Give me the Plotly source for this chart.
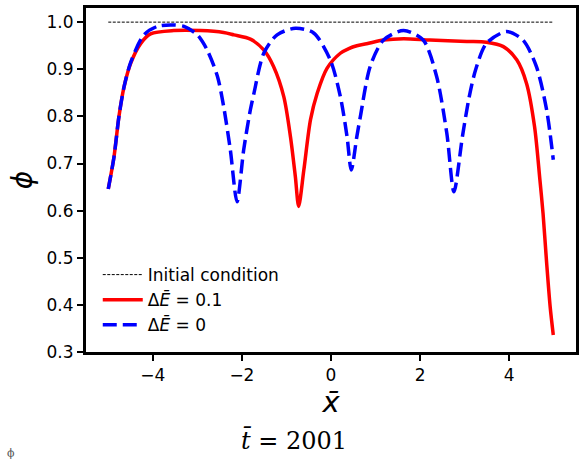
import plotly.graph_objects as go

# ---- data ----
init_x = [-5.0, 5.0]
init_y = [1.0, 1.0]

red_x = [-5.0, -4.87, -4.76, -4.645, -4.495, -4.27, -4.05, -3.53, -2.93, -2.41, -2.18,
         -1.81, -1.51, -1.29, -1.06, -0.91, -0.80, -0.726, -0.61, -0.46, -0.31, -0.09,
         0.21, 0.40, 0.58, 0.80, 1.18, 1.63, 2.22, 3.05, 3.49, 3.87, 4.17, 4.39, 4.57,
         4.69, 4.76, 4.84, 4.92, 4.99]
red_y = [0.646, 0.715, 0.800, 0.863, 0.913, 0.955, 0.975, 0.982, 0.982, 0.978, 0.973,
         0.964, 0.941, 0.906, 0.842, 0.757, 0.672, 0.609, 0.686, 0.793, 0.849, 0.902,
         0.934, 0.944, 0.950, 0.954, 0.962, 0.965, 0.962, 0.959, 0.9575, 0.948, 0.920,
         0.870, 0.778, 0.665, 0.594, 0.490, 0.396, 0.336]

blue_x = [-5.0, -4.87, -4.76, -4.645, -4.495, -4.2, -3.9, -3.6, -3.3, -3.0, -2.78, -2.55,
          -2.41, -2.26, -2.11, -1.96, -1.81, -1.73, -1.51, -1.21, -0.80, -0.39, -0.016,
          0.21, 0.36, 0.455, 0.58, 0.66, 0.88, 1.18, 1.63, 2.07, 2.37, 2.60, 2.76, 2.95,
          3.10, 3.25, 3.49, 3.94, 4.31, 4.61, 4.84, 4.99]
blue_y = [0.646, 0.715, 0.800, 0.863, 0.915, 0.973, 0.991, 0.994, 0.991, 0.973, 0.941, 0.885,
          0.821, 0.729, 0.619, 0.729, 0.814, 0.849, 0.934, 0.973, 0.987, 0.977, 0.920,
          0.842, 0.757, 0.686, 0.757, 0.800, 0.906, 0.962, 0.982, 0.962, 0.885, 0.764, 0.640,
          0.757, 0.840, 0.900, 0.955, 0.980, 0.962, 0.906, 0.814, 0.708]

x_tickvals = [-4, -2, 0, 2, 4]
x_ticktext = ["\u22124", "\u22122", "0", "2", "4"]
y_tickvals = [0.3, 0.4, 0.5, 0.6, 0.7, 0.8, 0.9, 1.0]
y_ticktext = ["0.3", "0.4", "0.5", "0.6", "0.7", "0.8", "0.9", "1.0"]

FONT = "DejaVu Sans"

fig = go.Figure()
fig.add_trace(go.Scatter(x=init_x, y=init_y, mode="lines", name="Initial condition",
                         line=dict(color="black", width=1, dash="3px,1.5px")))
fig.add_trace(go.Scatter(x=red_x, y=red_y, mode="lines", name="\u0394<i>\u0112</i> = 0.1",
                         line=dict(color="#ff0000", width=3.5, shape="spline", smoothing=0.8)))
fig.add_trace(go.Scatter(x=blue_x, y=blue_y, mode="lines", name="\u0394<i>\u0112</i> = 0",
                         line=dict(color="#0000ff", width=3.5, dash="14px,6px",
                                   shape="spline", smoothing=0.8)))

axis_common = dict(showgrid=False, zeroline=False, showline=True, linecolor="black",
                   linewidth=3, mirror=True, ticks="outside", ticklen=6, tickwidth=2,
                   tickcolor="black", automargin=False,
                   tickfont=dict(family=FONT, size=17, color="black"))

fig.update_xaxes(range=[-5.5, 5.5], tickvals=x_tickvals, ticktext=x_ticktext,
                 title=dict(text="<i>x\u0304</i>", font=dict(family=FONT, size=29, color="black"),
                            standoff=0),
                 **axis_common)
fig.update_yaxes(range=[0.3, 1.03], tickvals=y_tickvals, ticktext=y_ticktext,
                 title=dict(text="<i>\u03d5</i>", font=dict(family=FONT, size=28, color="black"),
                            standoff=6),
                 **axis_common)

fig.add_annotation(text="<i>t\u0304</i> = 2001", xref="paper", yref="paper",
                   x=0.424, y=-0.257, xanchor="center", yanchor="middle", showarrow=False,
                   font=dict(family="DejaVu Serif", size=24, color="black"))
fig.add_annotation(text="\u03d5", xref="paper", yref="paper", x=-0.165, y=-0.27,
                   xanchor="left", yanchor="top", showarrow=False,
                   font=dict(family="DejaVu Serif", size=11, color="#555555"))

fig.update_layout(
    width=585, height=459,
    margin=dict(l=86, r=9, t=8, b=107),
    paper_bgcolor="white", plot_bgcolor="white",
    font=dict(family=FONT, size=17, color="black"),
    legend=dict(x=0.024, y=0.026, xanchor="left", yanchor="bottom",
                bgcolor="rgba(0,0,0,0)", font=dict(family=FONT, size=17),
                itemwidth=40, tracegroupgap=0),
    showlegend=True,
)

fig.write_html("out.html", config={"displayModeBar": False},
               post_script="document.body.style.margin='0';")
